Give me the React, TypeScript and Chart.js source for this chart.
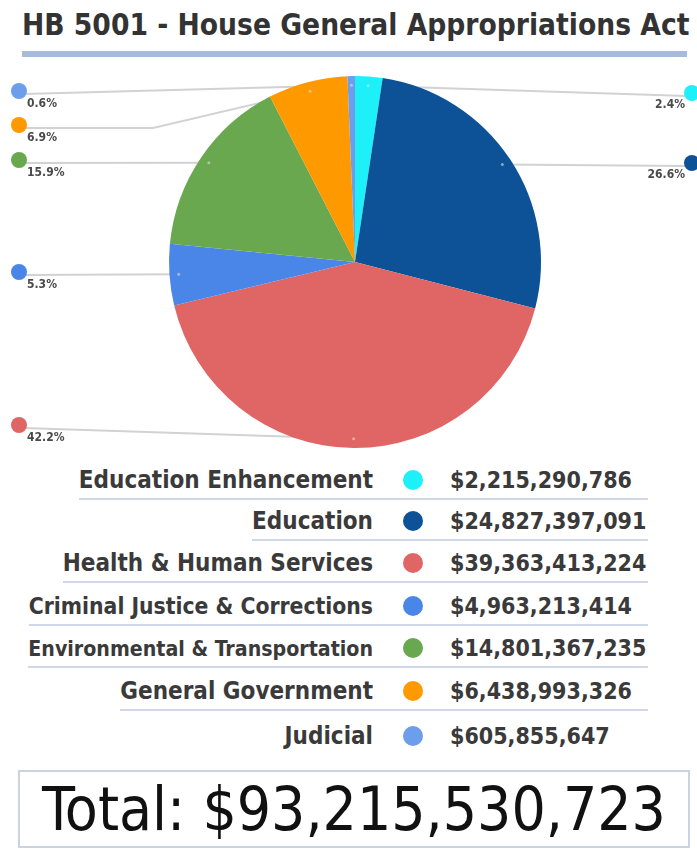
import React, { useEffect, useRef } from 'react';
import { Chart, registerables } from 'chart.js';

Chart.register(...registerables);

const titleText = 'HB 5001 - House General Appropriations Act';
const categories = [
  'Education Enhancement',
  'Education',
  'Health & Human Services',
  'Criminal Justice & Corrections',
  'Environmental & Transportation',
  'General Government',
  'Judicial',
];
const amounts = [
  2215290786, 24827397091, 39363413224, 4963213414, 14801367235, 6438993326, 605855647,
];
const percentLabels = ['2.4%', '26.6%', '42.2%', '5.3%', '15.9%', '6.9%', '0.6%'];
const sliceColors = ['#1ef0fa', '#0d5296', '#e06666', '#4a86e8', '#6aa84f', '#ff9900', '#6d9eeb'];

// layout: callout positions (canvas pixels)
const calloutLayout: { side: 'left' | 'right'; y: number; elbowX?: number }[] = [
  { side: 'right', y: 28 },
  { side: 'right', y: 98 },
  { side: 'left', y: 360 },
  { side: 'left', y: 207 },
  { side: 'left', y: 95 },
  { side: 'left', y: 60, elbowX: 153 },
  { side: 'left', y: 26 },
];
// layout: table label font sizes (long labels are squeezed)
const labelFontSizes = [24, 24, 24, 22.7, 21.2, 24, 24];

const FONT = '"DejaVu Sans Condensed", "DejaVu Sans", sans-serif';

const calloutPlugin = {
  id: 'callouts',
  beforeDatasetsDraw(chart: any) {
    const ctx = chart.ctx;
    const meta = chart.getDatasetMeta(0);
    ctx.save();
    ctx.strokeStyle = '#d2d2d2';
    ctx.lineWidth = 2;
    meta.data.forEach((arc: any, i: number) => {
      const p = arc.getProps(['x', 'y', 'startAngle', 'endAngle', 'outerRadius'], true);
      const mid = (p.startAngle + p.endAngle) / 2;
      const px = p.x + Math.cos(mid) * p.outerRadius * 0.95;
      const py = p.y + Math.sin(mid) * p.outerRadius * 0.95;
      const L = calloutLayout[i];
      const ly = L.y + 3;
      ctx.beginPath();
      if (L.side === 'left') {
        ctx.moveTo(24, ly);
        if (L.elbowX) ctx.lineTo(L.elbowX, ly);
      } else {
        ctx.moveTo(chart.width - 10, ly);
      }
      ctx.lineTo(px, py);
      ctx.stroke();
    });
    ctx.restore();
  },
  afterDraw(chart: any) {
    const ctx = chart.ctx;
    const meta = chart.getDatasetMeta(0);
    ctx.save();
    meta.data.forEach((arc: any, i: number) => {
      const p = arc.getProps(['x', 'y', 'startAngle', 'endAngle', 'outerRadius'], true);
      const mid = (p.startAngle + p.endAngle) / 2;
      const px = p.x + Math.cos(mid) * p.outerRadius * 0.95;
      const py = p.y + Math.sin(mid) * p.outerRadius * 0.95;
      ctx.fillStyle = 'rgba(220,220,220,0.6)';
      ctx.beginPath();
      ctx.arc(px, py, 1.5, 0, Math.PI * 2);
      ctx.fill();

      const L = calloutLayout[i];
      const dx = L.side === 'left' ? 19 : chart.width - 5;
      ctx.fillStyle = sliceColors[i];
      ctx.beginPath();
      ctx.arc(dx, L.y, 8, 0, Math.PI * 2);
      ctx.fill();
      ctx.fillStyle = '#4a4a4a';
      ctx.font = `bold 12px ${FONT}`;
      ctx.textBaseline = 'middle';
      if (L.side === 'left') {
        ctx.textAlign = 'left';
        ctx.fillText(percentLabels[i], 27, L.y + 13);
      } else {
        ctx.textAlign = 'right';
        ctx.fillText(percentLabels[i], chart.width - 12, L.y + 12);
      }
    });
    ctx.restore();
  },
};

const fmt = (n: number) => '$' + n.toLocaleString('en-US');

export default function App() {
  const canvasRef = useRef<HTMLCanvasElement | null>(null);

  useEffect(() => {
    document.body.style.margin = '0';
    const canvas = canvasRef.current;
    if (!canvas) return;
    const chart = new Chart(canvas, {
      type: 'pie',
      data: {
        labels: categories,
        datasets: [
          {
            data: amounts,
            backgroundColor: sliceColors,
            borderWidth: 0,
          },
        ],
      },
      options: {
        animation: false,
        responsive: false,
        maintainAspectRatio: false,
        layout: { padding: { top: 11, bottom: 11, left: 13, right: 0 } },
        plugins: {
          legend: { display: false },
          tooltip: { enabled: false },
        },
      },
      plugins: [calloutPlugin],
    });
    return () => chart.destroy();
  }, []);

  const total = amounts.reduce((a, b) => a + b, 0);
  const rowTops = [462, 503, 545, 588, 630, 673, 718];

  return (
    <div style={{ position: 'relative', width: 697, height: 850, background: '#fff', overflow: 'hidden', fontFamily: FONT }}>
      <div
        style={{
          position: 'absolute',
          left: 22,
          top: 8,
          fontSize: 29.6,
          fontWeight: 'bold',
          color: '#333',
          whiteSpace: 'nowrap',
          lineHeight: '34px',
        }}
      >
        {titleText}
      </div>
      <div style={{ position: 'absolute', left: 22, top: 51, width: 665, height: 6, background: '#a4bbdc' }} />
      <canvas ref={canvasRef} width={697} height={394} style={{ position: 'absolute', left: 0, top: 65, width: 697, height: 394 }} />
      {categories.map((c, i) => (
        <div
          key={c}
          style={{
            position: 'absolute',
            right: 49,
            top: rowTops[i],
            height: 36,
            display: 'flex',
            alignItems: 'center',
            borderBottom: i < categories.length - 1 ? '2px solid #cfd8e6' : 'none',
            whiteSpace: 'nowrap',
          }}
        >
          <span style={{ fontSize: labelFontSizes[i], fontWeight: 'bold', color: '#3a3a3a' }}>{c}</span>
          <span
            style={{
              display: 'inline-block',
              width: 20,
              height: 20,
              borderRadius: 10,
              background: sliceColors[i],
              marginLeft: 30,
              marginRight: 27,
            }}
          />
          <span style={{ width: 198, fontSize: 23, fontWeight: 'bold', color: '#3a3a3a' }}>{fmt(amounts[i])}</span>
        </div>
      ))}
      <div
        style={{
          position: 'absolute',
          left: 18,
          top: 770,
          width: 668,
          height: 74,
          border: '2px solid #c9d3e2',
          display: 'flex',
          alignItems: 'center',
          justifyContent: 'center',
          fontSize: 60,
          color: '#111',
          whiteSpace: 'nowrap',
        }}
      >
        Total: {fmt(total)}
      </div>
    </div>
  );
}
